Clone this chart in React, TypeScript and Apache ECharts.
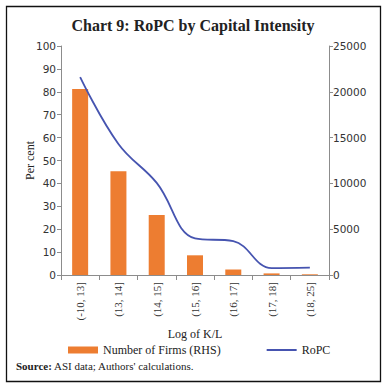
import React, { useEffect, useRef } from "react";
import * as echarts from "echarts";

const categories = ["(-10, 13]", "(13, 14]", "(14, 15]", "(15, 16]", "(16, 17]", "(17, 18]", "(18, 25]"];
const firmsShare = [81.2, 45.3, 26.2, 8.6, 2.4, 0.7, 0.3];
const ropc = [21600, 14300, 10050, 4000, 3700, 750, 800];
const leftTicks = { min: 0, max: 100, interval: 10 };
const rightTicks = { min: 0, max: 25000, interval: 5000 };

const SERIF = "'Liberation Serif', 'DejaVu Serif', serif";
const SANS = "'DejaVu Sans', sans-serif";

export default function App() {
  const ref = useRef<HTMLDivElement>(null);
  useEffect(() => {
    if (!ref.current) return;
    const chart = echarts.init(ref.current, undefined, { renderer: "svg" });
    const axisLine = { show: true, lineStyle: { color: "#8c8c8c", width: 1 } };
    chart.setOption({
      animation: false,
      backgroundColor: "#ffffff",
      title: {
        text: "Chart 9: RoPC by Capital Intensity",
        left: "center",
        top: 12,
        textStyle: { fontFamily: SERIF, fontSize: 16, fontWeight: "bold", color: "#222" },
      },
      grid: { left: 61, right: 57, top: 46, bottom: 113 },
      legend: {
        bottom: 27,
        left: 63,
        itemGap: 46,
        itemWidth: 30,
        itemHeight: 7,
        textStyle: { fontFamily: SERIF, fontSize: 12, color: "#222" },
        data: [
          { name: "Number of Firms (RHS)", icon: "rect" },
          { name: "RoPC", icon: "path://M0,0 L30,0 L30,2 L0,2 Z" },
        ],
      },
      xAxis: {
        type: "category",
        data: categories,
        name: "Log of K/L",
        nameLocation: "middle",
        nameGap: 48,
        nameTextStyle: { fontFamily: SERIF, fontSize: 12, color: "#222" },
        axisLine,
        axisTick: { show: true, alignWithLabel: false, length: 5, lineStyle: { color: "#8c8c8c" } },
        axisLabel: { rotate: 90, fontFamily: SERIF, fontSize: 11, color: "#333", margin: 7 },
      },
      yAxis: [
        {
          type: "value",
          ...leftTicks,
          name: "Per cent",
          nameLocation: "middle",
          nameGap: 25,
          nameMoveOverlap: false,
          nameTextStyle: { fontFamily: SERIF, fontSize: 12, color: "#222" },
          axisLine,
          axisTick: { show: true, length: 4, lineStyle: { color: "#8c8c8c" } },
          axisLabel: { fontFamily: SANS, fontSize: 10.5, color: "#333", margin: 5 },
          splitLine: { show: false },
        },
        {
          type: "value",
          position: "right",
          ...rightTicks,
          axisLine,
          axisTick: { show: true, length: 4, lineStyle: { color: "#8c8c8c" } },
          axisLabel: {
            fontFamily: SANS,
            fontSize: 10.5,
            color: "#333",
            margin: 4,
            formatter: (v: number) => String(v),
          },
          splitLine: { show: false },
        },
      ],
      series: [
        {
          name: "Number of Firms (RHS)",
          type: "bar",
          yAxisIndex: 0,
          data: firmsShare,
          barWidth: 16,
          itemStyle: { color: "#ED7D31" },
        },
        {
          name: "RoPC",
          type: "line",
          yAxisIndex: 1,
          data: ropc,
          smooth: 0.4,
          showSymbol: false,
          symbol: "none",
          lineStyle: { color: "#4654B0", width: 1.8 },
          itemStyle: { color: "#4654B0" },
        },
      ],
      graphic: [
        {
          type: "rect",
          shape: { x: 6.5, y: 6.5, width: 374, height: 375 },
          style: { fill: "none", stroke: "#111", lineWidth: 1.3 },
          silent: true,
        },
        {
          type: "text",
          left: 16,
          top: 360,
          style: {
            text: "{b|Source:} ASI data; Authors' calculations.",
            fontFamily: SERIF,
            fontSize: 11,
            fill: "#222",
            rich: {
              b: { fontFamily: SERIF, fontSize: 11, fontWeight: "bold", fill: "#222" },
            },
          },
        },
      ],
    });
    return () => chart.dispose();
  }, []);
  return (
    <div
      ref={ref}
      style={{ position: "fixed", left: 0, top: 0, width: 386, height: 388, background: "#fff" }}
    />
  );
}
